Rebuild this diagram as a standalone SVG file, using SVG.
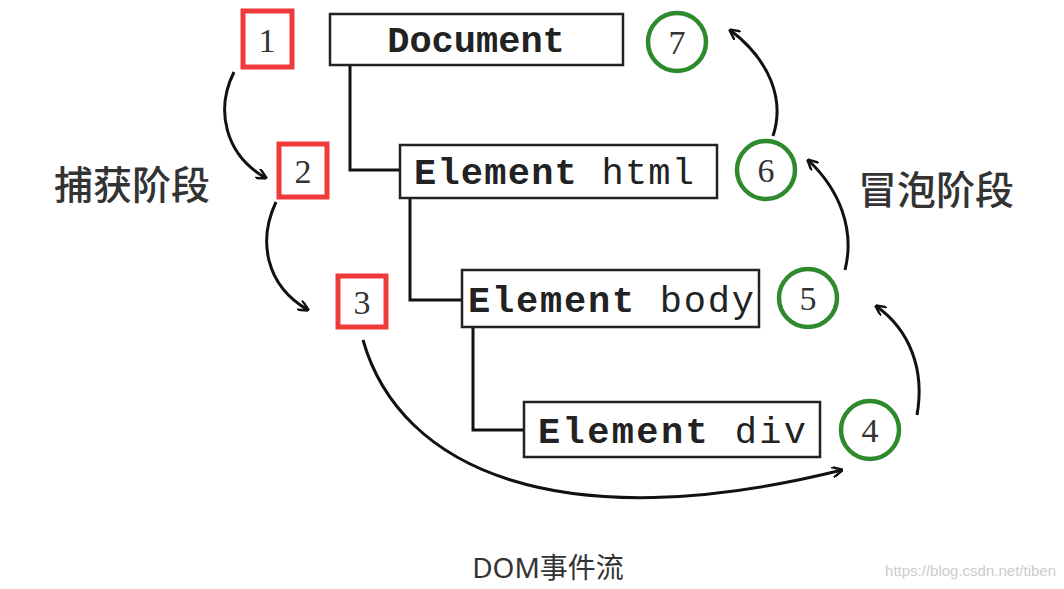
<svg xmlns="http://www.w3.org/2000/svg" width="1064" height="589" viewBox="0 0 1064 589">
<defs>
<marker id="ah" viewBox="0 0 10 10" refX="9" refY="5" markerWidth="11" markerHeight="11" orient="auto" markerUnits="userSpaceOnUse"><path d="M0,0 L10,5 L0,10" fill="none" stroke="#111" stroke-width="2.2"/></marker>
<style>
.box{fill:#fff;stroke:#222;stroke-width:2.5}
.mono{font-family:"Liberation Mono",monospace;font-size:37px;fill:#222}
.red{fill:#fff;stroke:#f03a3a;stroke-width:5}
.grn{fill:#fff;stroke:#2d8a2d;stroke-width:4.5}
.num{font-family:"Liberation Serif",serif;font-size:34px;fill:#333;text-anchor:middle}
.tree{fill:none;stroke:#111;stroke-width:3}
.arr{fill:none;stroke:#111;stroke-width:3;marker-end:url(#ah)}
.cjk{font-family:"Noto Sans CJK SC",sans-serif;font-size:39px;fill:#333;font-weight:500}
</style>
</defs>
<rect width="1064" height="589" fill="#fff"/>
<g id="connectors">
<path class="tree" d="M350,65 V170 H400"/>
<path class="tree" d="M410,198 V300 H462"/>
<path class="tree" d="M473,327 V430 H524"/>
<path class="arr" d="M234,72 C215,110 225,155 266,178"/>
<path class="arr" d="M276,202 C258,240 265,285 308,310"/>
<path class="arr" d="M363,340 C400,470 560,540 842,470"/>
<path class="arr" d="M917,415 C925,370 910,330 876,306"/>
<path class="arr" d="M845,270 C855,230 840,190 808,160"/>
<path class="arr" d="M773,136 C785,100 770,60 730,30"/>
</g>
<g id="document"><rect class="box" x="330" y="14" width="293" height="51"/><text class="mono" x="476" y="52" text-anchor="middle" font-weight="bold">Document</text></g>
<g id="html"><rect class="box" x="400" y="145" width="317" height="53"/><text class="mono" x="414" y="184" textLength="280"><tspan font-weight="bold">Element</tspan> html</text></g>
<g id="body"><rect class="box" x="462" y="270" width="297" height="57"/><text class="mono" x="468" y="312" textLength="286"><tspan font-weight="bold">Element</tspan> body</text></g>
<g id="div"><rect class="box" x="524" y="402" width="296" height="55"/><text class="mono" x="538" y="443" textLength="268"><tspan font-weight="bold">Element</tspan> div</text></g>
<g id="n1"><rect class="red" x="243" y="11" width="49" height="56"/><text class="num" x="267" y="52">1</text></g>
<g id="n2"><rect class="red" x="279" y="144" width="48" height="53"/><text class="num" x="303" y="183">2</text></g>
<g id="n3"><rect class="red" x="338" y="276" width="48" height="51"/><text class="num" x="362" y="314">3</text></g>
<g id="n7"><circle class="grn" cx="677" cy="42" r="29"/><text class="num" x="677" y="54">7</text></g>
<g id="n6"><circle class="grn" cx="766" cy="170" r="29"/><text class="num" x="766" y="182">6</text></g>
<g id="n5"><circle class="grn" cx="808" cy="298" r="29"/><text class="num" x="808" y="310">5</text></g>
<g id="n4"><circle class="grn" cx="870" cy="430" r="29"/><text class="num" x="870" y="442">4</text></g>
<g id="labels">
<text class="cjk" x="54" y="199">捕获阶段</text>
<text class="cjk" x="858" y="204">冒泡阶段</text>
<text font-family="'Noto Sans','Noto Sans CJK SC',sans-serif" font-size="28" fill="#333" x="548" y="578" text-anchor="middle">DOM事件流</text>
<text font-family="'Liberation Sans',sans-serif" font-size="15" fill="#ccc" x="1056" y="576" text-anchor="end">https://blog.csdn.net/tiben</text>
</g>
</svg>
